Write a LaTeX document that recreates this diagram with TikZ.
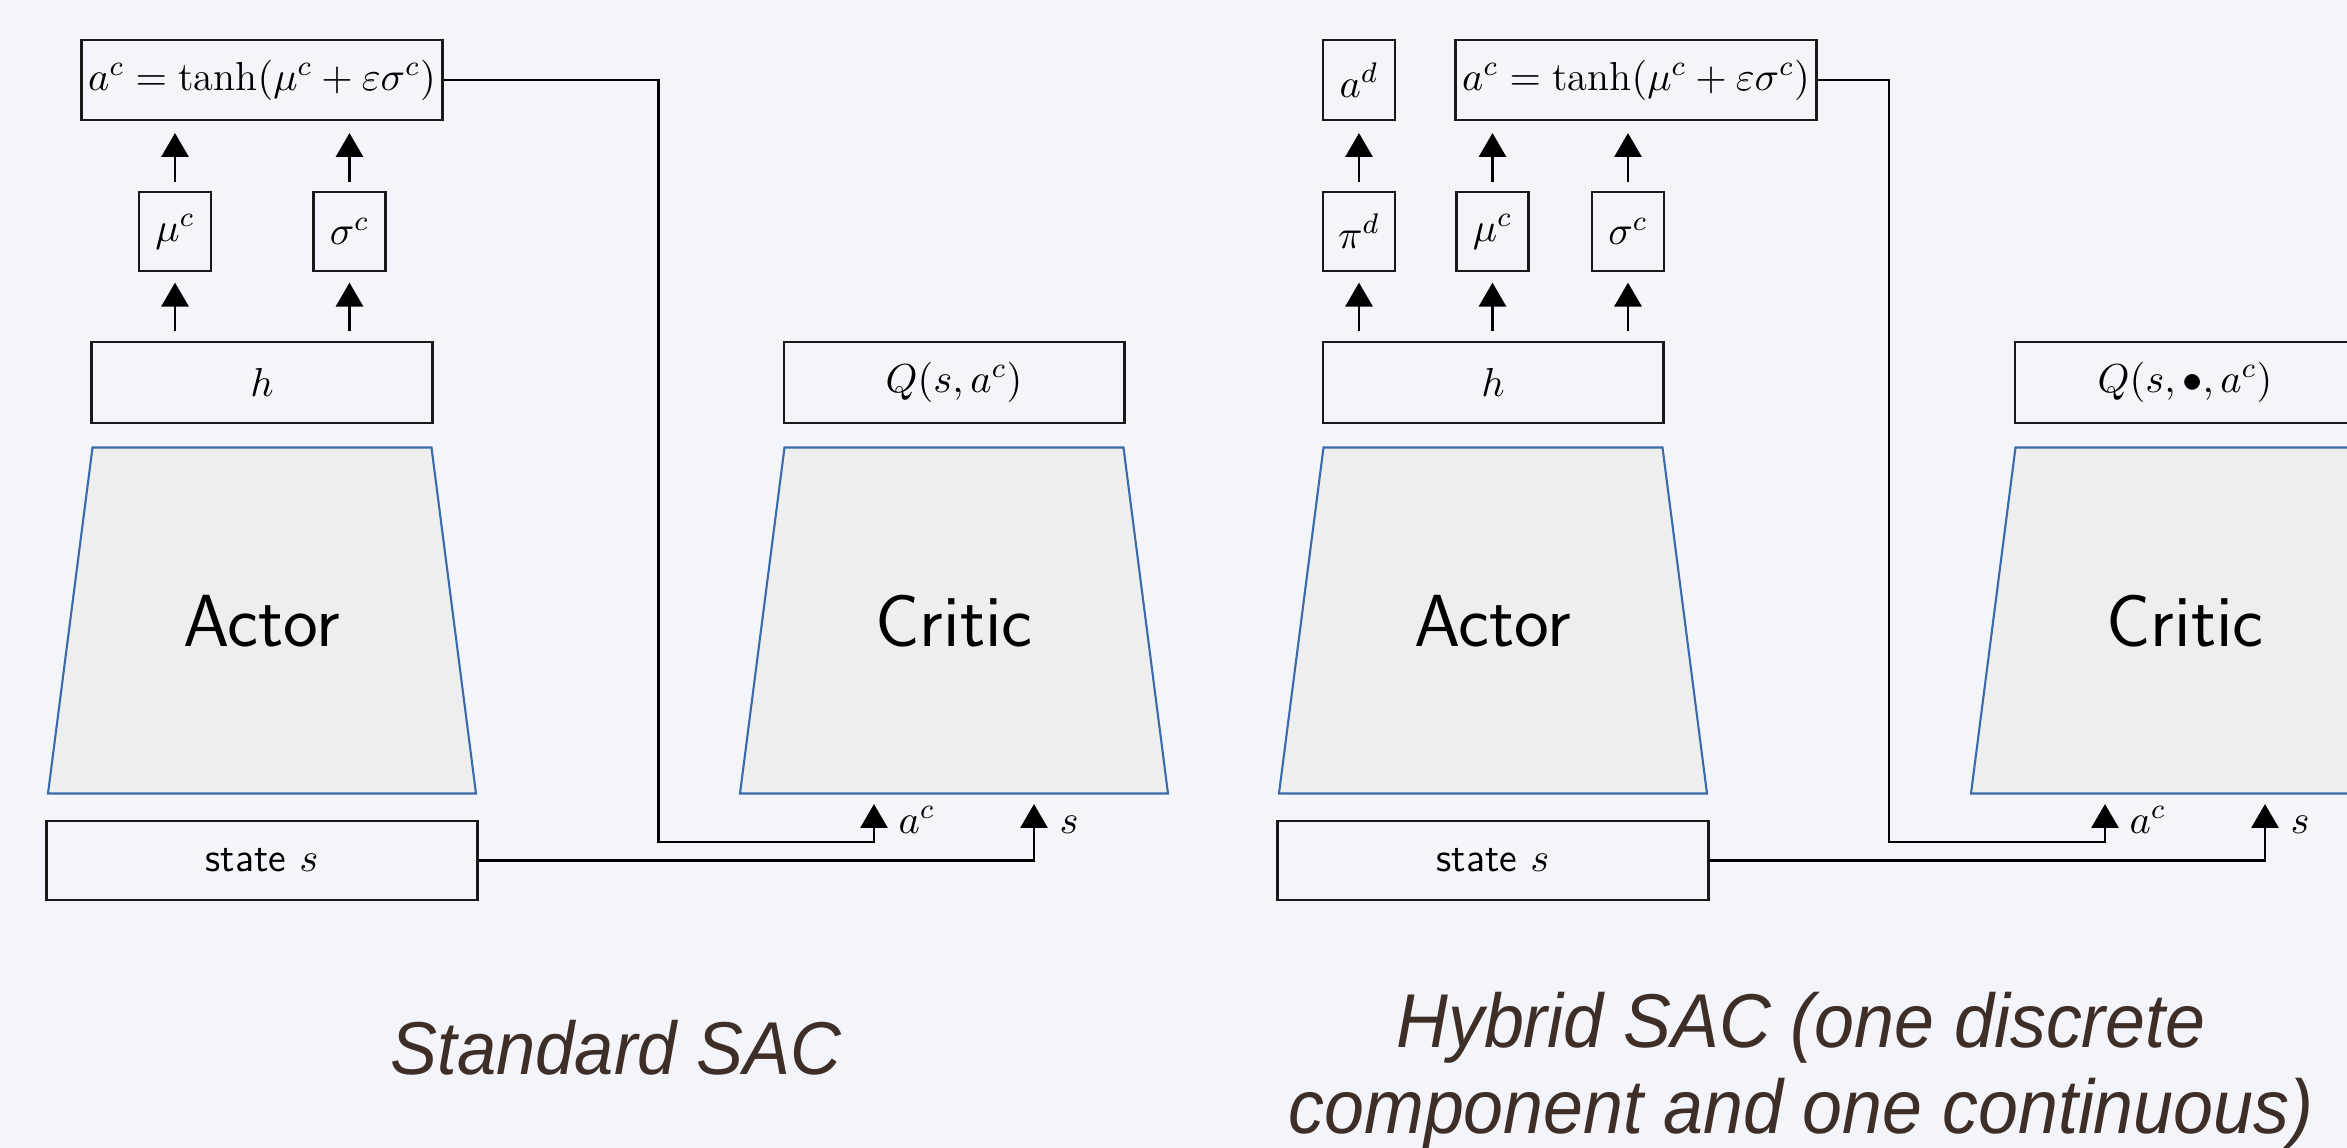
\RequirePackage{fix-cm}
\documentclass[tikz,border=0pt]{standalone}
\usepackage{fontspec}
\usepackage{amsmath}
\usepackage{xcolor}
\usepackage{tikz}
\usetikzlibrary{arrows.meta}

\definecolor{bgcol}{RGB}{243,245,250}
\definecolor{netfill}{RGB}{238,238,238}
\definecolor{netedge}{RGB}{58,106,170}
\definecolor{titlecol}{RGB}{62,46,40}
\newfontfamily\titlefont{Liberation Sans}[FakeStretch=0.94]

\begin{document}
\begin{tikzpicture}[x=0.01cm, y=-0.01cm,
  box/.style={draw=black!90, line width=0.8pt, inner sep=0pt, font=\fontsize{11.5}{13.8}\selectfont},
  small/.style={minimum width=0.72cm, minimum height=0.79cm},
  wide/.style={minimum width=3.4cm, minimum height=0.81cm},
  net/.style={draw=netedge, line width=0.6pt, fill=netfill},
  netlbl/.style={font=\sffamily\fontsize{21}{25}\selectfont, anchor=base},
  lbl/.style={anchor=base west, inner sep=0pt, font=\fontsize{11.5}{13.8}\selectfont},
  arr/.style={-{Triangle[length=6.8pt,width=7.7pt]}, line width=0.75pt},
  title/.style={font=\titlefont\itshape\fontsize{21.3}{24.2}\selectfont, text=titlecol, anchor=base}]

\useasboundingbox (0,0) rectangle (2347,1148);
\clip (0,0) rectangle (2347,1148);
\fill[bgcol] (0,0) rectangle (2347,1148);

% standard SAC
\begin{scope}
\node[box, minimum width=3.6cm, minimum height=0.8cm] (ac1) at (262,80) {$a^c = \tanh(\mu^c + \varepsilon\sigma^c)$};
\node[box, small] (mu1) at (175,231.5) {$\mu^c$};
\node[box, small] (sig1) at (349.5,231.5) {$\sigma^c$};
\node[box, wide] (h1) at (262,382.5) {$h$};
\node[box, wide] (q1) at (954,382.5) {$Q(s,a^c)$};
\node[box, minimum width=4.3cm, minimum height=0.79cm] (st1) at (262,860.5) {\textsf{state} $s$};

\draw[net] (92.5,447.5) -- (431.5,447.5) -- (476,793.5) -- (48,793.5) -- cycle;
\node[netlbl] (actor1) at (262,646) {Actor};
\draw[net] (784.5,447.5) -- (1123.5,447.5) -- (1168,793.5) -- (740,793.5) -- cycle;
\node[netlbl] (critic1) at (954,646) {Critic};

\foreach \n in {mu1, sig1} {
  \draw[arr, shorten <=2.6pt, shorten >=2.9pt] (h1.north -| \n) -- (\n.south);
  \draw[arr, shorten <=2.5pt, shorten >=3.3pt] (\n.north) -- (ac1.south -| \n);
}

\coordinate (ain1) at (874,793.5);
\coordinate (sin1) at (1034,793.5);
\coordinate (bend1) at (658.5,842);
\draw[arr, shorten >=3pt] (ac1.east) -| (bend1) -| (ain1);
\draw[arr, shorten >=3pt] (st1.east) -| (sin1);
\node[lbl] (lac1) at (898,833) {$a^c$};
\node[lbl] (ls1) at (1059,833) {$s$};

\node[title] (std) at (616,1074) {Standard SAC};
\end{scope}

% hybrid SAC
\begin{scope}
\node[box, small, minimum height=0.8cm] (ad2) at (1359,80) {$a^d$};
\node[box, minimum width=3.6cm, minimum height=0.8cm] (ac2) at (1636,80) {$a^c = \tanh(\mu^c + \varepsilon\sigma^c)$};
\node[box, small] (pi2) at (1359,231.5) {$\pi^d$};
\node[box, small] (mu2) at (1492.5,231.5) {$\mu^c$};
\node[box, small] (sig2) at (1628,231.5) {$\sigma^c$};
\node[box, wide] (h2) at (1493,382.5) {$h$};
\node[box, wide] (q2) at (2185,382.5) {$Q(s,\bullet,a^c)$};
\node[box, minimum width=4.3cm, minimum height=0.79cm] (st2) at (1493,860.5) {\textsf{state} $s$};

\draw[net] (1323.5,447.5) -- (1662.5,447.5) -- (1707,793.5) -- (1279,793.5) -- cycle;
\node[netlbl] (actor2) at (1493,646) {Actor};
\draw[net] (2015.5,447.5) -- (2354.5,447.5) -- (2399,793.5) -- (1971,793.5) -- cycle;
\node[netlbl] (critic2) at (2185,646) {Critic};

\foreach \n in {pi2, mu2, sig2}
  \draw[arr, shorten <=2.6pt, shorten >=2.9pt] (h2.north -| \n) -- (\n.south);
\draw[arr, shorten <=2.5pt, shorten >=3.3pt] (pi2.north) -- (ad2.south);
\foreach \n in {mu2, sig2}
  \draw[arr, shorten <=2.5pt, shorten >=3.3pt] (\n.north) -- (ac2.south -| \n);

\coordinate (ain2) at (2105,793.5);
\coordinate (sin2) at (2265,793.5);
\coordinate (bend2) at (1889,842);
\draw[arr, shorten >=3pt] (ac2.east) -| (bend2) -| (ain2);
\draw[arr, shorten >=3pt] (st2.east) -| (sin2);
\node[lbl] (lac2) at (2129,833) {$a^c$};
\node[lbl] (ls2) at (2290,833) {$s$};

% base of a two-line node sits on its last line
\node[title, align=center, font=\titlefont\itshape\fontsize{21.7}{24.2}\selectfont] (hyb) at (1801,1133) {Hybrid SAC (one discrete\\component and one continuous)};
\end{scope}

\end{tikzpicture}
\end{document}
